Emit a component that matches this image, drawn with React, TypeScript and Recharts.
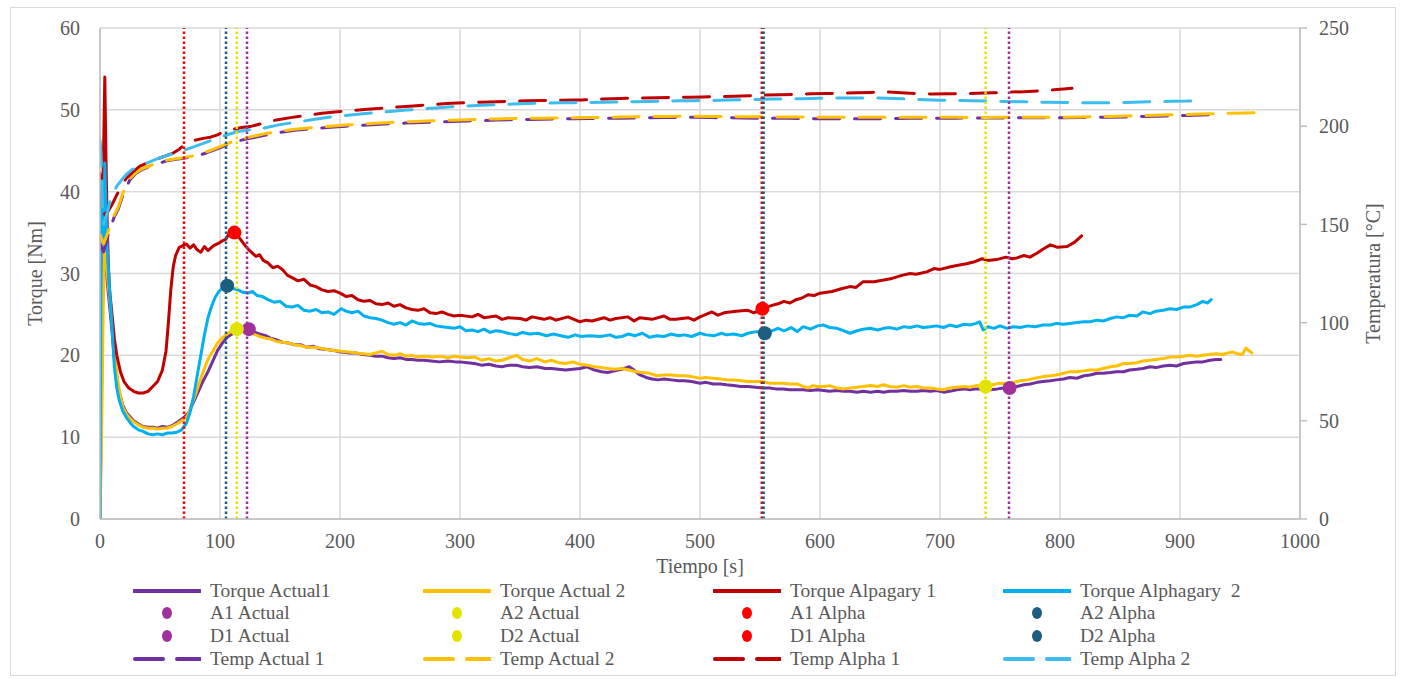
import { ComposedChart, Line, XAxis, YAxis, CartesianGrid, ReferenceLine, ReferenceDot, Label } from 'recharts'

// ticks
const timeTicks = [0, 100, 200, 300, 400, 500, 600, 700, 800, 900, 1000]
const torqueTicks = [0, 10, 20, 30, 40, 50, 60]
const tempTicks = [0, 50, 100, 150, 200, 250]

// [tiempo s, torque Nm]
const torqueActual1: [number, number][] = [
  [0, 0], [1.5, 18], [2.5, 31], [3.5, 33.5], [4.5, 32], [6, 29], [8, 26], [10, 23], [12, 19.5], [14, 17], [16, 15.5],
  [19, 13.9], [22, 13.0], [25, 12.5], [28, 12.0], [32, 11.6], [36, 11.3], [40, 11.2], [44, 11.2], [48, 11.1], [52, 11.3],
  [56, 11.2], [60, 11.4], [65, 11.9], [70, 12.4], [74, 13.0], [78, 14.3], [82, 15.6], [86, 16.9], [90, 18.0], [94, 19.3],
  [98, 20.6], [102, 21.5], [106, 22.2], [110, 22.6], [114, 22.9], [119, 23.1], [124, 23.2], [128, 22.9], [133, 22.6],
  [138, 22.4], [142, 22.1], [147, 21.9], [152, 21.6], [157, 21.5], [162, 21.3], [167, 21.3], [172, 21.0], [178, 21.1],
  [183, 20.8], [189, 20.7], [195, 20.6], [201, 20.4], [207, 20.3], [213, 20.3], [219, 20.1], [225, 20.0], [230, 19.9],
  [235, 19.9], [240, 19.7], [245, 19.6], [250, 19.7], [255, 19.5], [260, 19.5], [265, 19.4], [270, 19.4], [276, 19.3],
  [283, 19.2], [290, 19.3], [296, 19.2], [300, 19.2], [306, 19.1], [312, 19.0], [318, 18.8], [324, 18.9], [330, 18.7],
  [335, 18.6], [341, 18.8], [347, 18.8], [352, 18.6], [358, 18.5], [364, 18.6], [371, 18.4], [376, 18.4], [382, 18.3],
  [388, 18.2], [394, 18.3], [400, 18.4], [406, 18.6], [412, 18.2], [418, 18.0], [423, 17.9], [429, 18.1], [435, 18.3],
  [441, 18.6], [445, 18.2], [450, 17.6], [455, 17.3], [460, 17.1], [465, 17.0], [470, 17.1], [476, 17.0], [482, 16.9],
  [487, 16.9], [493, 16.8], [500, 16.6], [505, 16.7], [511, 16.5], [517, 16.5], [522, 16.4], [528, 16.3], [534, 16.2],
  [540, 16.2], [546, 16.1], [553, 16.0], [558, 16.0], [563, 15.9], [569, 15.9], [575, 15.8], [581, 15.8], [586, 15.8],
  [592, 15.7], [598, 15.8], [603, 15.7], [608, 15.6], [614, 15.7], [620, 15.6], [625, 15.6], [631, 15.5], [636, 15.6],
  [642, 15.5], [648, 15.6], [653, 15.5], [658, 15.6], [664, 15.6], [670, 15.7], [675, 15.6], [681, 15.6], [686, 15.7],
  [692, 15.6], [697, 15.7], [703, 15.5], [708, 15.6], [714, 15.8], [720, 15.9], [725, 15.8], [730, 15.9], [736, 15.9],
  [742, 15.8], [748, 15.9], [753, 16.0], [758, 16.0], [764, 16.2], [770, 16.4], [775, 16.5], [781, 16.7], [786, 16.8],
  [792, 16.9], [797, 17.0], [803, 17.1], [808, 17.3], [814, 17.2], [820, 17.5], [825, 17.6], [831, 17.8], [836, 17.8],
  [842, 17.9], [847, 18.0], [853, 18.0], [858, 18.2], [864, 18.3], [869, 18.4], [875, 18.6], [880, 18.5], [886, 18.7],
  [892, 18.8], [897, 18.7], [903, 19.0], [908, 19.1], [914, 19.2], [919, 19.2], [925, 19.4], [930, 19.5], [934, 19.5],
]

const torqueActual2: [number, number][] = [
  [0, 0], [1.5, 12], [2.5, 24], [3.5, 34], [4.5, 33], [6, 30], [8, 27], [10, 24], [12, 20.5], [14, 17.8], [16, 15.8],
  [19, 13.7], [22, 12.8], [25, 12.3], [28, 11.9], [32, 11.5], [36, 11.2], [40, 11.1], [44, 11.1], [48, 11.0], [52, 11.1],
  [56, 11.1], [60, 11.3], [65, 11.7], [70, 12.2], [73, 12.6], [76, 13.8], [80, 15.4], [84, 17.2], [88, 18.8], [91, 19.8],
  [94, 20.5], [98, 21.5], [101, 22.0], [105, 22.5], [110, 23.0], [114, 23.2], [119, 23.0], [124, 22.8], [128, 22.6],
  [133, 22.3], [138, 22.1], [142, 22.0], [147, 21.7], [152, 21.6], [157, 21.5], [162, 21.3], [167, 21.2], [172, 21.0],
  [178, 21.0], [183, 20.9], [189, 20.7], [195, 20.6], [201, 20.5], [207, 20.4], [213, 20.3], [219, 20.2], [225, 20.1],
  [230, 20.3], [235, 20.5], [240, 20.1], [245, 20.0], [250, 20.2], [255, 19.9], [260, 20.0], [265, 19.8], [270, 19.9],
  [276, 19.8], [283, 19.9], [290, 19.7], [296, 19.9], [300, 19.8], [306, 19.7], [312, 19.8], [318, 19.4], [324, 19.6],
  [330, 19.3], [335, 19.4], [341, 19.7], [347, 20.0], [352, 19.5], [358, 19.3], [364, 19.6], [371, 19.2], [376, 19.4],
  [382, 19.1], [388, 19.0], [394, 19.2], [400, 18.9], [406, 18.8], [412, 18.6], [418, 18.5], [423, 18.4], [429, 18.3],
  [435, 18.4], [441, 18.2], [447, 18.0], [452, 17.9], [458, 17.8], [464, 17.5], [470, 17.6], [476, 17.6], [482, 17.5],
  [487, 17.5], [493, 17.4], [500, 17.2], [505, 17.3], [511, 17.2], [517, 17.1], [522, 17.0], [528, 17.0], [534, 16.9],
  [540, 16.8], [546, 16.8], [552, 16.8], [558, 16.6], [563, 16.6], [569, 16.6], [575, 16.5], [581, 16.5], [586, 16.2],
  [590, 16.0], [594, 16.3], [598, 16.2], [603, 16.2], [608, 16.3], [614, 16.0], [620, 15.9], [625, 16.0], [631, 16.1],
  [636, 16.2], [642, 16.3], [648, 16.2], [653, 16.4], [658, 16.2], [664, 16.1], [670, 16.3], [675, 16.1], [681, 16.2],
  [686, 16.0], [692, 16.0], [697, 15.9], [703, 15.8], [708, 16.0], [714, 16.1], [720, 16.2], [725, 16.1], [730, 16.3],
  [738, 16.2], [744, 16.4], [750, 16.6], [756, 16.5], [761, 16.7], [767, 16.9], [773, 17.0], [779, 17.2], [786, 17.4],
  [792, 17.5], [797, 17.6], [803, 17.8], [808, 18.0], [814, 18.0], [820, 18.1], [825, 18.2], [831, 18.2], [836, 18.4],
  [842, 18.6], [847, 18.7], [853, 19.0], [858, 19.0], [864, 19.1], [869, 19.3], [875, 19.4], [880, 19.5], [886, 19.6],
  [892, 19.8], [897, 19.8], [903, 19.9], [908, 20.0], [914, 19.9], [919, 20.0], [925, 20.1], [930, 20.2], [935, 20.1],
  [940, 20.3], [944, 20.4], [948, 20.2], [952, 20.1], [955, 20.9], [957, 20.6], [960, 20.3],
]

const torqueAlpha1: [number, number][] = [
  [0, 36.5], [1, 42], [2, 38], [3, 45], [4, 54], [5, 44], [6, 36], [7, 31], [8, 28], [10, 25], [12, 22], [14, 20],
  [17, 18], [20, 16.8], [24, 16], [28, 15.6], [32, 15.4], [36, 15.4], [40, 15.6], [44, 16.2], [48, 16.8], [52, 18.2],
  [55, 20.5], [57, 24], [59, 28], [61, 30.8], [63, 32.2], [66, 33.2], [69, 33.4], [72, 33.6], [75, 33.1], [78, 33.5],
  [81, 32.9], [84, 32.6], [87, 33.3], [90, 32.8], [93, 33.2], [96, 33.5], [99, 33.7], [102, 34.0], [105, 34.2],
  [108, 35.0], [112, 35.2], [115, 34.6], [118, 34.0], [121, 33.4], [124, 32.9], [127, 32.5], [130, 32.1], [133, 32.3],
  [136, 31.6], [140, 31.3], [144, 30.7], [148, 30.9], [152, 30.5], [156, 29.8], [160, 29.5], [165, 29.1], [170, 29.3],
  [175, 28.6], [180, 28.4], [185, 28.0], [190, 27.8], [195, 27.9], [200, 27.6], [205, 27.2], [210, 27.3], [215, 26.8],
  [220, 26.6], [225, 26.7], [230, 26.3], [235, 26.2], [240, 26.4], [245, 26.0], [250, 26.2], [255, 25.8], [260, 25.6],
  [265, 25.5], [270, 25.7], [275, 25.2], [280, 25.1], [285, 25.3], [290, 25.0], [295, 24.8], [300, 24.9], [310, 24.7],
  [315, 25.0], [320, 24.6], [330, 24.8], [335, 24.4], [340, 24.6], [350, 24.5], [355, 24.3], [360, 24.7], [370, 24.4],
  [375, 24.6], [380, 24.3], [390, 24.7], [395, 24.4], [400, 24.1], [405, 24.3], [410, 24.2], [420, 24.6], [425, 24.3],
  [430, 24.5], [440, 24.7], [445, 24.2], [450, 24.6], [460, 24.4], [470, 24.8], [475, 24.4], [480, 24.4], [490, 24.6],
  [495, 24.3], [500, 24.7], [505, 25.0], [510, 25.3], [515, 24.9], [520, 25.2], [530, 25.4], [540, 25.5], [545, 25.2],
  [552, 25.7], [560, 26.1], [565, 26.3], [570, 26.6], [575, 26.4], [580, 26.8], [585, 27.0], [590, 27.4], [595, 27.3],
  [600, 27.6], [610, 27.8], [617, 28.1], [625, 28.4], [630, 28.3], [636, 29.0], [645, 29.0], [653, 29.2], [660, 29.4],
  [669, 29.8], [675, 30.0], [680, 29.9], [689, 30.2], [695, 30.6], [700, 30.5], [708, 30.8], [715, 31.0], [722, 31.2],
  [728, 31.4], [735, 31.8], [740, 31.6], [747, 31.7], [755, 32.0], [760, 31.8], [764, 31.9], [770, 32.2], [775, 32.0],
  [781, 32.5], [786, 33.0], [792, 33.5], [798, 33.2], [806, 33.3], [812, 33.8], [818, 34.6],
]

const torqueAlpha2: [number, number][] = [
  [0, 0], [1, 38], [2, 35], [3, 33], [4, 43.5], [5, 38], [6, 33], [7, 30.5], [8, 28], [10, 23.5], [12, 18.5], [14, 16],
  [16, 14.5], [19, 13.2], [22, 12.4], [25, 11.8], [28, 11.3], [32, 10.9], [36, 10.7], [40, 10.4], [44, 10.3], [48, 10.4],
  [52, 10.3], [56, 10.5], [60, 10.5], [64, 10.6], [68, 10.9], [72, 11.7], [75, 13], [78, 15], [81, 17.5], [84, 20],
  [87, 22.5], [90, 24.6], [93, 26], [96, 27.1], [99, 27.8], [102, 28.2], [106, 28.5], [110, 28.2], [115, 28.0],
  [119, 27.7], [123, 27.6], [127, 27.8], [131, 27.3], [135, 27.2], [140, 26.8], [145, 26.5], [150, 26.6], [155, 26.0],
  [160, 25.9], [165, 26.1], [170, 25.5], [175, 25.4], [180, 25.6], [185, 25.2], [190, 25.3], [195, 25.0], [201, 25.7],
  [205, 25.4], [210, 25.2], [215, 25.4], [220, 24.8], [225, 24.6], [230, 24.5], [235, 24.3], [240, 24.0], [245, 23.8],
  [250, 24.0], [255, 23.7], [260, 24.2], [265, 23.9], [270, 23.8], [275, 23.9], [280, 23.6], [285, 23.5], [290, 23.4],
  [295, 23.3], [300, 23.5], [305, 23.0], [310, 23.1], [315, 22.9], [320, 23.2], [325, 22.8], [330, 23.0], [335, 22.9],
  [340, 22.7], [347, 22.5], [352, 22.8], [358, 22.6], [365, 22.7], [372, 22.4], [378, 22.6], [384, 22.4], [390, 22.2],
  [396, 22.5], [401, 22.3], [408, 22.4], [417, 22.3], [425, 22.5], [430, 22.2], [435, 22.3], [440, 22.6], [446, 22.4],
  [452, 22.7], [458, 22.2], [464, 22.4], [470, 22.3], [476, 22.6], [482, 22.4], [487, 22.5], [493, 22.3], [500, 22.7],
  [505, 22.5], [512, 22.4], [518, 22.7], [522, 22.5], [528, 22.6], [535, 22.4], [540, 22.7], [547, 22.9], [554, 22.7],
  [560, 23.0], [565, 23.3], [570, 23.0], [576, 23.4], [581, 22.9], [586, 23.5], [592, 23.2], [598, 23.6], [603, 23.7],
  [608, 23.4], [614, 23.3], [620, 23.0], [625, 22.7], [631, 23.0], [636, 23.2], [642, 23.3], [648, 23.1], [653, 23.3],
  [658, 23.4], [664, 23.2], [670, 23.5], [675, 23.4], [681, 23.6], [686, 23.4], [692, 23.5], [697, 23.6], [703, 23.4],
  [708, 23.7], [714, 23.5], [720, 23.8], [725, 23.7], [730, 23.9], [733, 24.1], [736, 23.1], [740, 23.5], [745, 23.3],
  [750, 23.6], [756, 23.3], [761, 23.5], [767, 23.4], [773, 23.6], [779, 23.5], [786, 23.7], [792, 23.7], [797, 23.9],
  [803, 23.8], [808, 23.9], [814, 24.0], [820, 24.1], [825, 24.1], [831, 24.3], [836, 24.2], [842, 24.5], [847, 24.7],
  [853, 24.6], [858, 24.9], [864, 24.8], [869, 25.3], [875, 25.1], [880, 25.4], [886, 25.5], [892, 25.7], [897, 25.6],
  [903, 25.9], [908, 25.9], [914, 26.2], [919, 26.6], [923, 26.4], [926, 26.8],
]

// [tiempo s, temperatura °C]
const tempActual1: [number, number][] = [
  [0, 140], [3, 136], [6, 143], [9, 149], [12, 154], [15, 157.5], [20, 166.5], [25, 172.8], [30, 176], [36, 178.2],
  [42, 179.7], [48, 180.8], [55, 182.3], [62, 183.0], [70, 183.7], [76, 184.3], [83, 185.3], [89, 186.5], [96, 188.1],
  [103, 189.8], [109, 191.2], [114, 192.3], [120, 193.2], [125, 193.8], [136, 195.2], [150, 196.8], [164, 198.0],
  [178, 198.8], [192, 199.5], [205, 200.0], [217, 200.4], [230, 200.9], [242, 201.3], [255, 201.6], [268, 201.9],
  [280, 202.2], [293, 202.4], [306, 202.7], [318, 202.9], [331, 203.1], [344, 203.3], [356, 203.4], [369, 203.6],
  [382, 203.7], [395, 203.8], [408, 203.9], [420, 204.0], [433, 204.1], [446, 204.2], [458, 204.3], [471, 204.4],
  [484, 204.5], [496, 204.5], [509, 204.4], [522, 204.3], [535, 204.2], [548, 204.1], [560, 204.0], [573, 204.0],
  [586, 203.9], [599, 203.8], [611, 203.8], [624, 203.8], [637, 203.8], [649, 203.8], [662, 203.9], [675, 204.0],
  [688, 204.0], [700, 204.1], [713, 204.1], [727, 204.2], [739, 204.2], [752, 204.2], [765, 204.3], [778, 204.3],
  [791, 204.3], [803, 204.3], [816, 204.4], [829, 204.5], [842, 204.6], [855, 204.7], [867, 204.9], [880, 205.1],
  [893, 205.3], [906, 205.5], [918, 205.7], [930, 205.9], [936, 206.0],
]

const tempActual2: [number, number][] = [
  [0, 145], [3, 140], [6, 145], [9, 150], [12, 155], [15, 158.5], [20, 167.5], [25, 173.5], [30, 176.5], [36, 178.6],
  [42, 180.0], [48, 181.1], [55, 182.6], [62, 183.3], [70, 184.0], [76, 184.7], [83, 185.8], [89, 187.0], [96, 188.6],
  [103, 190.4], [109, 191.8], [114, 193.0], [120, 193.8], [125, 194.5], [136, 196.0], [150, 197.5], [164, 198.6],
  [178, 199.3], [192, 200.0], [205, 200.6], [217, 201.0], [230, 201.5], [242, 201.9], [255, 202.2], [268, 202.5],
  [280, 202.8], [293, 203.0], [306, 203.3], [318, 203.5], [331, 203.7], [344, 203.9], [356, 204.0], [369, 204.1],
  [382, 204.2], [395, 204.3], [408, 204.4], [420, 204.5], [433, 204.7], [446, 204.8], [458, 204.9], [471, 205.0],
  [484, 205.1], [496, 205.1], [509, 205.0], [522, 204.9], [535, 204.8], [548, 204.8], [560, 204.7], [573, 204.7],
  [586, 204.7], [599, 204.6], [611, 204.6], [624, 204.6], [637, 204.6], [649, 204.6], [662, 204.6], [675, 204.6],
  [688, 204.6], [700, 204.6], [713, 204.5], [727, 204.4], [739, 204.4], [752, 204.5], [765, 204.6], [778, 204.6],
  [791, 204.6], [803, 204.6], [816, 204.7], [829, 204.8], [842, 205.0], [855, 205.2], [867, 205.4], [880, 205.6],
  [893, 205.8], [906, 206.0], [918, 206.2], [931, 206.4], [944, 206.6], [955, 206.7], [962, 206.8],
]

const tempAlpha1: [number, number][] = [
  [0, 176], [2, 158], [4, 155], [7, 157], [10, 160], [14, 165], [18, 170], [22, 173.5], [27, 176.5], [33, 179.5],
  [40, 181.5], [47, 183.2], [54, 184.8], [61, 186.3], [66, 188.3], [70, 190.4], [75, 192.0], [80, 193.0], [86, 193.8],
  [92, 194.4], [98, 195.6], [103, 197.2], [110, 198.3], [118, 199.3], [125, 199.8], [136, 201.5], [147, 203.2],
  [160, 204.5], [173, 205.6], [185, 206.6], [198, 207.4], [210, 208.0], [223, 208.6], [236, 209.2], [248, 209.8],
  [261, 210.3], [274, 210.9], [286, 211.4], [293, 211.7], [305, 212.0], [318, 212.2], [330, 212.4], [343, 212.7],
  [356, 212.9], [369, 213.1], [382, 213.2], [395, 213.3], [401, 213.4], [414, 213.7], [427, 214.0], [439, 214.2],
  [452, 214.4], [465, 214.5], [477, 214.7], [490, 214.8], [502, 214.9], [515, 215.1], [528, 215.3], [541, 215.5],
  [553, 215.8], [566, 216.0], [579, 216.2], [592, 216.5], [605, 216.6], [618, 216.8], [630, 217.0], [643, 217.2],
  [656, 217.4], [668, 217.0], [681, 216.6], [694, 216.4], [706, 216.5], [719, 216.6], [731, 216.8], [744, 217.0],
  [757, 217.3], [770, 217.6], [782, 218.0], [795, 218.5], [803, 218.9], [810, 219.3],
]

const tempAlpha2: [number, number][] = [
  [0, 193], [1, 185], [2, 160], [3, 150], [4, 152], [6, 156], [8, 161], [11, 166], [14, 169.5], [18, 172.6],
  [22, 175.5], [27, 178], [33, 179.8], [40, 181.5], [47, 183.2], [53, 184.5], [60, 185.8], [66, 187.0], [72, 188.2],
  [78, 189.5], [85, 191.0], [92, 192.6], [100, 194.5], [108, 196.0], [115, 197.3], [125, 198.2], [136, 199.0],
  [150, 200.8], [165, 202.2], [179, 203.5], [193, 204.8], [205, 205.5], [217, 206.2], [230, 206.9], [242, 207.5],
  [255, 208.2], [268, 208.8], [280, 209.3], [293, 209.9], [306, 210.3], [318, 210.7], [331, 211.0], [344, 211.3],
  [356, 211.6], [369, 211.8], [382, 211.9], [395, 212.0], [408, 212.1], [420, 212.2], [433, 212.3], [446, 212.5],
  [458, 212.6], [471, 212.8], [484, 212.9], [496, 213.0], [509, 213.1], [522, 213.3], [535, 213.5], [548, 213.6],
  [560, 213.8], [573, 213.9], [586, 214.0], [599, 214.2], [611, 214.3], [624, 214.4], [637, 214.4], [649, 214.3],
  [662, 214.1], [675, 213.8], [688, 213.5], [700, 213.2], [713, 213.1], [727, 213.0], [739, 212.8], [752, 212.6],
  [765, 212.5], [778, 212.3], [791, 212.2], [803, 212.1], [816, 212.0], [829, 212.0], [842, 212.0], [855, 212.1],
  [867, 212.3], [880, 212.5], [893, 212.7], [906, 212.8], [914, 213.0], [920, 213.1],
]

// puntos A (arranque) y D (degradacion): [tiempo, torque]
const a1Actual: [number, number] = [124, 23.2]
const a2Actual: [number, number] = [114, 23.2]
const a1Alpha: [number, number] = [112, 35.0]
const a2Alpha: [number, number] = [106, 28.5]
const d1Actual: [number, number] = [758, 16.0]
const d2Actual: [number, number] = [738, 16.2]
const d1Alpha: [number, number] = [552, 25.7]
const d2Alpha: [number, number] = [554, 22.7]

// lineas verticales punteadas (tiempo)
const guidesActual1 = [122.5, 757.5]
const guidesActual2 = [114, 738]
const guidesAlpha1 = [70, 551.5]
const guidesAlpha2 = [105, 553]

const C = {
  actual1: '#7030A0',
  actual2: '#FFC000',
  alpha1: '#C00000',
  alpha2: '#00B0F0',
  tempAlpha2: '#3DBDEE',
  dotActual1: '#A0309A',
  dotActual2: '#E3E300',
  dotAlpha1: '#FF0000',
  dotAlpha2: '#1B5E80',
  text: '#595959',
  grid: '#D9D9D9',
  axis: '#BFBFBF',
}

const FONT = '"Liberation Serif", "Times New Roman", serif'
const toRows = (pts: [number, number][]) => pts.map(([t, v]) => ({ t, v }))
const tickStyle = { fontSize: 20, fill: C.text, fontFamily: FONT }

const legendRows = [
  [
    { name: 'Torque Actual1', kind: 'line', color: C.actual1 },
    { name: 'Torque Actual 2', kind: 'line', color: C.actual2 },
    { name: 'Torque Alpagary 1', kind: 'line', color: C.alpha1 },
    { name: 'Torque Alphagary  2', kind: 'line', color: C.alpha2 },
  ],
  [
    { name: 'A1 Actual', kind: 'dot', color: C.dotActual1 },
    { name: 'A2 Actual', kind: 'dot', color: C.dotActual2 },
    { name: 'A1 Alpha', kind: 'dot', color: C.dotAlpha1 },
    { name: 'A2 Alpha', kind: 'dot', color: C.dotAlpha2 },
  ],
  [
    { name: 'D1 Actual', kind: 'dot', color: C.dotActual1 },
    { name: 'D2 Actual', kind: 'dot', color: C.dotActual2 },
    { name: 'D1 Alpha', kind: 'dot', color: C.dotAlpha1 },
    { name: 'D2 Alpha', kind: 'dot', color: C.dotAlpha2 },
  ],
  [
    { name: 'Temp Actual 1', kind: 'dash', color: C.actual1 },
    { name: 'Temp Actual 2', kind: 'dash', color: C.actual2 },
    { name: 'Temp Alpha 1', kind: 'dash', color: C.alpha1 },
    { name: 'Temp Alpha 2', kind: 'dash', color: C.tempAlpha2 },
  ],
]
const legendColX = [133, 423, 713, 1003]
const legendRowY = [591, 613, 636, 659]

function LegendIcon({ kind, color }: { kind: string; color: string }) {
  return (
    <svg width={68} height={14} style={{ display: 'block' }}>
      {kind === 'line' && <line x1={1} y1={7} x2={67} y2={7} stroke={color} strokeWidth={4} strokeLinecap="round" />}
      {kind === 'dash' && (
        <>
          <line x1={2} y1={7} x2={30} y2={7} stroke={color} strokeWidth={4} strokeLinecap="round" />
          <line x1={44} y1={7} x2={67} y2={7} stroke={color} strokeWidth={4} strokeLinecap="round" />
        </>
      )}
      {kind === 'dot' && <ellipse cx={34} cy={7} rx={5} ry={6} fill={color} />}
    </svg>
  )
}

export default function App() {
  const lineProps = { type: 'linear' as const, dataKey: 'v', dot: false, activeDot: false, isAnimationActive: false, strokeWidth: 3, strokeLinejoin: 'round' as const, strokeLinecap: 'round' as const }
  const dashProps = { ...lineProps, strokeDasharray: '26 15' }
  const guide = (t: number, color: string, key: string) => (
    <ReferenceLine key={key} x={t} yAxisId="torque" stroke={color} strokeWidth={2.5} strokeDasharray="2.5 2.5" />
  )
  const marker = (p: [number, number], color: string, key: string) => (
    <ReferenceDot key={key} x={p[0]} y={p[1]} yAxisId="torque" r={7} fill={color} stroke="none" />
  )

  return (
    <div style={{ position: 'absolute', left: 0, top: 0, width: 1405, height: 679, background: '#fff', fontFamily: FONT }}>
      <div style={{ position: 'absolute', left: 10, top: 7, width: 1386, height: 669, border: '1.5px solid #D9D9D9', boxSizing: 'border-box' }} />
      <ComposedChart width={1405} height={679} margin={{ top: 28, right: 0, bottom: 120, left: 0 }}>
        <CartesianGrid yAxisId="torque" stroke={C.grid} strokeWidth={1.5} verticalPoints={undefined} />
        <XAxis
          dataKey="t" type="number" domain={[0, 1000]} ticks={timeTicks} height={40}
          tick={tickStyle} tickLine={false} tickSize={0} tickMargin={15}
          axisLine={{ stroke: C.axis, strokeWidth: 1.5 }} allowDataOverflow
        >
          <Label value="Tiempo [s]" position="center" dy={27} style={{ fontSize: 20, fill: C.text, fontFamily: FONT }} />
        </XAxis>
        <YAxis
          yAxisId="torque" dataKey="v" domain={[0, 60]} ticks={torqueTicks} width={100}
          tick={tickStyle} tickLine={false} tickSize={0} tickMargin={20}
          axisLine={{ stroke: C.axis, strokeWidth: 1.5 }} allowDataOverflow
        >
          <Label value="Torque [Nm]" position="center" angle={-90} dx={-15} style={{ fontSize: 20, fill: C.text, fontFamily: FONT, textAnchor: 'middle' }} />
        </YAxis>
        <YAxis
          yAxisId="temp" orientation="right" domain={[0, 250]} ticks={tempTicks} width={105}
          tick={tickStyle} tickLine={{ stroke: C.axis, strokeWidth: 1.5 }} tickSize={7} tickMargin={12}
          axisLine={{ stroke: C.axis, strokeWidth: 1.5 }} allowDataOverflow
        >
          <Label value="Temperatura [°C]" position="center" angle={-90} dx={20} style={{ fontSize: 20, fill: C.text, fontFamily: FONT, textAnchor: 'middle' }} />
        </YAxis>

        <Line {...lineProps} yAxisId="torque" data={toRows(torqueActual1)} name="Torque Actual1" stroke={C.actual1} />
        <Line {...lineProps} yAxisId="torque" data={toRows(torqueActual2)} name="Torque Actual 2" stroke={C.actual2} />
        <Line {...lineProps} yAxisId="torque" data={toRows(torqueAlpha1)} name="Torque Alpagary 1" stroke={C.alpha1} />
        <Line {...lineProps} yAxisId="torque" data={toRows(torqueAlpha2)} name="Torque Alphagary  2" stroke={C.alpha2} />

        <Line {...dashProps} yAxisId="temp" data={toRows(tempActual1)} name="Temp Actual 1" stroke={C.actual1} />
        <Line {...dashProps} yAxisId="temp" data={toRows(tempActual2)} name="Temp Actual 2" stroke={C.actual2} />
        <Line {...dashProps} yAxisId="temp" data={toRows(tempAlpha1)} name="Temp Alpha 1" stroke={C.alpha1} />
        <Line {...dashProps} yAxisId="temp" data={toRows(tempAlpha2)} name="Temp Alpha 2" stroke={C.tempAlpha2} />

        {marker(a1Actual, C.dotActual1, 'a1a')}
        {marker(a2Actual, C.dotActual2, 'a2a')}
        {marker(a1Alpha, C.dotAlpha1, 'a1p')}
        {marker(a2Alpha, C.dotAlpha2, 'a2p')}
        {marker(d1Actual, C.dotActual1, 'd1a')}
        {marker(d2Actual, C.dotActual2, 'd2a')}
        {marker(d1Alpha, C.dotAlpha1, 'd1p')}
        {marker(d2Alpha, C.dotAlpha2, 'd2p')}

        {guidesAlpha1.map((t, i) => guide(t, C.dotAlpha1, 'g1p' + i))}
        {guidesAlpha2.map((t, i) => guide(t, C.dotAlpha2, 'g2p' + i))}
        {guidesActual2.map((t, i) => guide(t, C.dotActual2, 'g2a' + i))}
        {guidesActual1.map((t, i) => guide(t, C.dotActual1, 'g1a' + i))}
      </ComposedChart>

      {legendRows.map((row, r) =>
        row.map((item, c) => (
          <div
            key={item.name}
            style={{ position: 'absolute', left: legendColX[c], top: legendRowY[r] - 11, height: 22, display: 'flex', alignItems: 'center', gap: 9, color: C.text, fontSize: 19.5, whiteSpace: 'pre' }}
          >
            <LegendIcon kind={item.kind} color={item.color} />
            <span>{item.name}</span>
          </div>
        ))
      )}
    </div>
  )
}
